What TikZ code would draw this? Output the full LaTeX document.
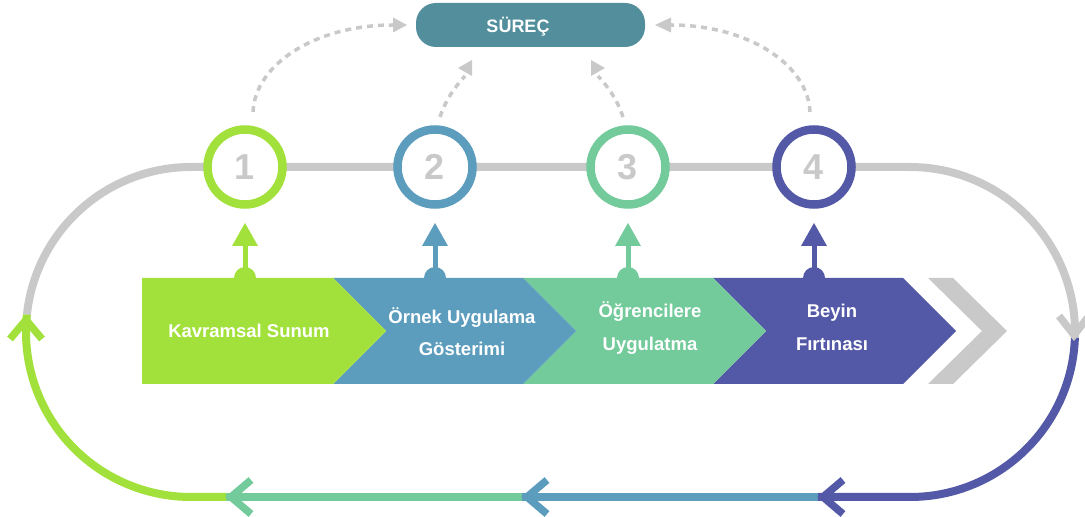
\documentclass[tikz,border=0pt]{standalone}
\usepackage{fontspec}
\setmainfont{Liberation Sans}
\usetikzlibrary{calc}
\definecolor{cLime}{HTML}{A2E13B}
\definecolor{cBlue}{HTML}{5C9DBE}
\definecolor{cMint}{HTML}{73CA9B}
\definecolor{cPurple}{HTML}{5358A7}
\definecolor{cGray}{HTML}{C9C9C9}
\definecolor{cTeal}{HTML}{528E9B}
\begin{document}
\begin{tikzpicture}[x=1pt,y=1pt,
  loopline/.style={line width=8pt},
  chev/.style={line width=7.5pt, line cap=butt, line join=miter},
  numcircle/.style={circle, draw=#1, line width=8.5pt, fill=white, minimum size=75pt, inner sep=0pt,
     text=cGray, font=\fontsize{36}{40}\selectfont\bfseries},
  lbl/.style={text=white, anchor=base, inner sep=0pt, font=\fontsize{18.5}{22}\selectfont\bfseries},
  dashline/.style={cGray, line width=3.5pt, dash pattern=on 6pt off 5pt},
  dhead/.style={fill=cGray},
  surec/.style={fill=cTeal, rounded corners=20pt, minimum width=229pt, minimum height=44pt, inner sep=0pt,
     text=white, font=\fontsize{18}{22}\selectfont\bfseries}
]
\useasboundingbox (0,0) rectangle (1085,517);

% loop centres
\coordinate (L) at (191,185);
\coordinate (R) at (910,185);
\coordinate (gL) at ($(L)+(174:165)$);
\coordinate (gR) at ($(R)+(-2:165)$);
\coordinate (b3) at (818,20);
\coordinate (b2) at (522,20);
\coordinate (b1) at (226,20);

% loop segments
\draw[loopline, cGray] (gL) arc[start angle=174, end angle=90, radius=165] -- ($(R)+(90:165)$) arc[start angle=90, end angle=-2, radius=165];
\draw[loopline, cPurple] (gR) arc[start angle=-2, end angle=-90, radius=165] -- (b3);
\draw[loopline, cBlue] (b3) -- (b2);
\draw[loopline, cMint] (b2) -- (b1);
\draw[loopline, cLime] (b1) -- ($(L)+(270:165)$) arc[start angle=270, end angle=174, radius=165];

% chevrons
\draw[chev, cPurple] (843,37) -- (823,20) -- (843,3);
\draw[chev, cBlue] (547,37) -- (527,20) -- (547,3);
\draw[chev, cMint] (251,37) -- (231,20) -- (251,3);
\draw[chev, cLime] (10,178) -- (26,197) -- (42,178);
\draw[chev, cGray] (1059,201) -- (1074,182) -- (1089,201);

% numbered circles
\node[numcircle=cLime] (c1) at (245,350) {1};
\node[numcircle=cBlue] (c2) at (435,350) {2};
\node[numcircle=cMint] (c3) at (628,350) {3};
\node[numcircle=cPurple] (c4) at (814,350) {4};

% process shapes
\fill[cPurple] (713,239) -- (903,239) -- (956,186) -- (903,133) -- (713,133) -- (766,186) -- cycle;
\fill[cMint] (523,239) -- (713,239) -- (766,186) -- (713,133) -- (523,133) -- (576,186) -- cycle;
\fill[cBlue] (333,239) -- (523,239) -- (576,186) -- (523,133) -- (333,133) -- (386,186) -- cycle;
\fill[cLime] (142,239) -- (333,239) -- (386,186) -- (333,133) -- (142,133) -- cycle;
\fill[cGray] (928,239) -- (953,239) -- (1007,186) -- (953,133) -- (928,133) -- (982,186) -- cycle;

\node[lbl] (t1) at (249,179) {Kavramsal Sunum};
\node[lbl] (t2a) at (462,193) {Örnek Uygulama};
\node[lbl] (t2b) at (462,161) {Gösterimi};
\node[lbl] (t3a) at (650,199) {Öğrencilere};
\node[lbl] (t3b) at (650,166) {Uygulatma};
\node[lbl] (t4a) at (832,199) {Beyin};
\node[lbl] (t4b) at (832,166) {Fırtınası};

% up arrows from shapes to circles
\foreach \cx/\col in {245/cLime, 435/cBlue, 628/cMint, 814/cPurple}{
  \fill[\col] (\cx-11,239) arc[start angle=180, end angle=0, radius=11] -- cycle;
  \draw[\col, line width=5pt] (\cx,239) -- (\cx,272);
  \fill[\col] (\cx,294) -- (\cx-13,271) -- (\cx+13,271) -- cycle;
}

% process box
\node[surec] (s) at (530.5,492) {\hspace*{-25pt}\raisebox{-8pt}[0pt][0pt]{SÜREÇ}};

% dashed connectors
\coordinate (d1s) at (253,405);
\coordinate (d1e) at (393,492);
\coordinate (d2s) at (440,400);
\coordinate (d2e) at (465,441);
\coordinate (d3s) at (623,400);
\coordinate (d3e) at (598,441);
\coordinate (d4s) at (810,405);
\coordinate (d4e) at (671,492);
\draw[dashline] (d1s) .. controls (255,453) and (316,492) .. (d1e);
\draw[dashline] (d2s) .. controls (446,418) and (455,430) .. (d2e);
\draw[dashline] (d3s) .. controls (617,418) and (608,430) .. (d3e);
\draw[dashline] (d4s) .. controls (808,453) and (747,492) .. (d4e);
\fill[dhead] (407,492) -- (393,499.5) -- (393,484.5) -- cycle;
\fill[dhead] (458,449) -- (472,457) -- (472,441) -- cycle;
\fill[dhead] (605,449) -- (591,457) -- (591,441) -- cycle;
\fill[dhead] (655,492) -- (671,499.5) -- (671,484.5) -- cycle;
\end{tikzpicture}
\end{document}
